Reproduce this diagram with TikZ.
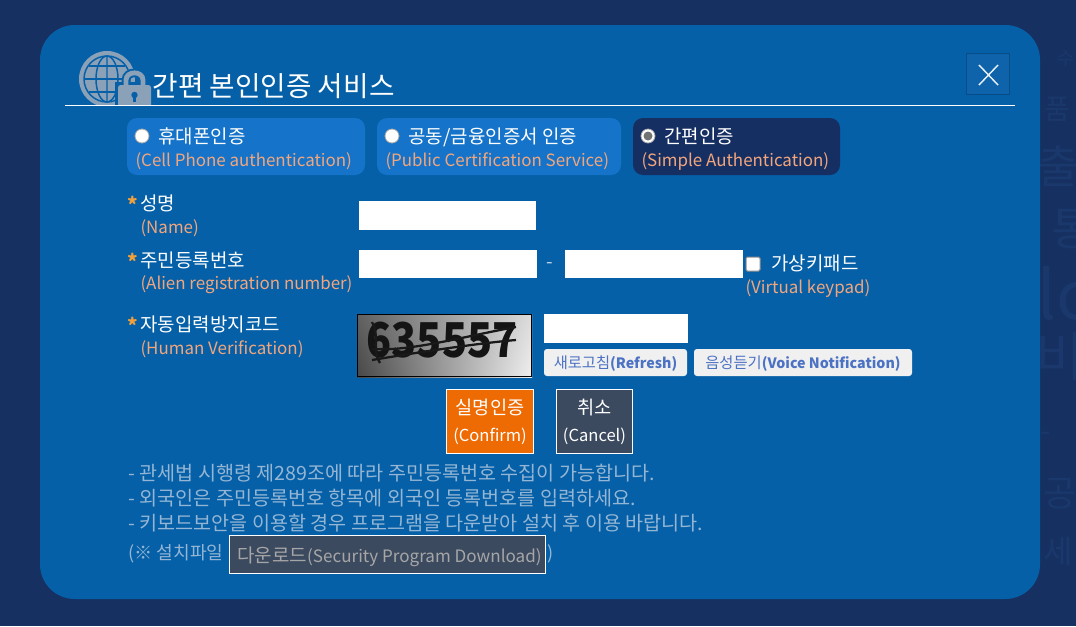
\documentclass[tikz,border=0pt]{standalone}
\usepackage{fontspec}
\usetikzlibrary{shadings}
\setmainfont{Noto Sans CJK KR}

\definecolor{pagebg}{RGB}{21,48,97}
\definecolor{ghostc}{RGB}{27,56,108}
\definecolor{modalbg}{RGB}{5,96,168}
\definecolor{tabc}{RGB}{21,116,201}
\definecolor{tabdark}{RGB}{22,47,99}
\definecolor{peach}{RGB}{243,166,124}
\definecolor{starc}{RGB}{240,160,60}
\definecolor{notec}{RGB}{148,182,212}
\definecolor{iconc}{RGB}{139,161,184}
\definecolor{slatec}{RGB}{60,74,96}
\definecolor{orangec}{RGB}{238,106,2}
\definecolor{linkc}{RGB}{76,114,196}
\definecolor{closec}{RGB}{14,99,170}

\newcommand{\linklatin}[1]{{\fontsize{10.7}{14}\bfseries\selectfont #1}}
\newcommand{\smalllatin}[1]{{\fontsize{12.8}{16}\selectfont #1}}

\tikzset{every picture/.style={line width=0.75pt}}
\tikzset{
	txt/.style={anchor=base west,inner sep=0pt,text=white,font=\fontsize{14.2}{16}\selectfont},
	peachtxt/.style={txt,text=peach,font=\fontsize{12.7}{16}\selectfont},
	notetxt/.style={txt,text=notec,font=\fontsize{14.7}{16}\selectfont},
	cenw/.style={txt,anchor=base,font=\fontsize{14}{16}\selectfont},
	cenl/.style={txt,anchor=base,font=\fontsize{12.4}{16}\selectfont},
	startxt/.style={txt,text=starc,font=\fontsize{15}{16}\bfseries\selectfont},
	linktxt/.style={txt,anchor=base,text=linkc,font=\fontsize{11.5}{14}\selectfont},
	ghost/.style={anchor=center,inner sep=0pt,text=ghostc,font=\fontsize{#1}{#1}\selectfont},
	tabbox/.style={fill=tabc,rounded corners=7.5pt},
	inputbox/.style={fill=white},
	linkbox/.style={fill=black!6,rounded corners=2.2pt},
	radio/.style={fill=white,draw=black!35,line width=0.6pt},
}

\begin{document}
\begin{tikzpicture}[x=0.75pt,y=0.75pt,yscale=-1]
	\useasboundingbox (0,0) rectangle (1076,626);
	\fill [pagebg] (0,0) rectangle (1076,626);

	% faint page text behind the dialog
	\begin{scope}
	\clip (1040,0) rectangle (1076,626);
	\node (ghostA) [ghost=14] at (1066,59) {수};
	\node (ghostB) [ghost=21] at (1057,109) {품};
	\node (ghostC) [ghost=34] at (1058,166) {출};
	\node (ghostD) [ghost=34] at (1072,229) {통};
	\node (ghostE) [ghost=50] at (1064,293) {lc};
	\node (ghostF) [ghost=40] at (1060,357) {비};
	\node (ghostG) [ghost=22] at (1046,437) {-};
	\node (ghostH) [ghost=27] at (1060,494) {공};
	\node (ghostI) [ghost=24] at (1058,552) {세};
	\end{scope}

	% dialog
	\fill [modalbg,rounded corners=26pt] (40,25) rectangle (1040,599);

	% globe and lock icon
	\begin{scope}
	\clip (60,40) rectangle (160,105);
	\fill [iconc] (107,79) circle (28);
	\draw [modalbg,line width=1.1pt] (107,79) circle (23);
	\draw [modalbg,line width=1.1pt] (107,79) ellipse (11 and 23) (107,56) -- (107,102);
	\draw [modalbg,line width=1.1pt] (84,79) -- (130,79);
	\draw [modalbg,line width=1.1pt] (89,66) -- (125,66) (89,92) -- (125,92);
	\draw [modalbg,line width=6.5pt] (126,90) -- (126,80) .. controls (126,70.5) and (143,70.5) .. (143,80) -- (143,90);
	\fill [modalbg] (115,82) rectangle (156,105);
	\draw [iconc,line width=3.6pt] (126,88) -- (126,80) .. controls (126,70.5) and (143,70.5) .. (143,80) -- (143,88);
	\fill [iconc,rounded corners=2pt] (118,85) rectangle (151,112);
	\fill [modalbg] (134.5,95) circle (3.2);
	\fill [modalbg] (133.2,95) rectangle (135.8,102);
	\end{scope}

	% Text Node
	\node (titleText) [txt,font=\fontsize{20.8}{24}\selectfont] at (152,96) {간편 본인인증 서비스};
	\draw [white] (65,105) -- (1015,105);

	% close button
	\fill [modalbg!80!black] (966,53) rectangle (1010,95);
	\fill [closec] (966.5,53.5) rectangle (1009,93.5);
	\draw [white!90!tabc,line width=1.1pt] (979,65) -- (998,85) (998,65) -- (979,85);

	% tabs
	\fill [tabbox] (127,118) rectangle (365,175);
	\fill [tabbox] (377,118) rectangle (621,175);
	\fill [tabbox,fill=tabdark] (633,118) rectangle (840,175);
	\draw [radio] (142,136) circle (7) (392,136) circle (7) (648,136) circle (7);
	\fill [black!55] (648,136) circle (4.5);

	% Text Node
	\node (cellText) [txt] at (158,143) {휴대폰인증};
	\node (cellSub) [peachtxt] at (135,166) {(Cell Phone authentication)};
	\node (certText) [txt] at (408,143) {공동/금융인증서 인증};
	\node (certSub) [peachtxt] at (385,166) {(Public Certification Service)};
	\node (simpleText) [txt] at (664,143) {간편인증};
	\node (simpleSub) [peachtxt] at (641,166) {(Simple Authentication)};

	% form labels
	\node (starA) [startxt] at (127,212) {*};
	\node (nameText) [txt] at (140,210) {성명};
	\node (nameSub) [peachtxt] at (140,233) {(Name)};
	\node (starB) [startxt] at (127,269) {*};
	\node (alienText) [txt] at (140,267) {주민등록번호};
	\node (alienSub) [peachtxt] at (140,289) {(Alien registration number)};
	\node (starC) [startxt] at (127,333) {*};
	\node (humanText) [txt] at (140,331) {자동입력방지코드};
	\node (humanSub) [peachtxt] at (140,354) {(Human Verification)};

	% inputs
	\fill [inputbox] (359,201) rectangle (536,230);
	\fill [inputbox] (359,250) rectangle (537,278);
	\fill [inputbox] (565,250) rectangle (743,278);
	\fill [inputbox] (544,314) rectangle (688,343);
	\node (dashText) [txt,text=notec!60!white] at (546,268) {-};
	\draw [fill=white,draw=black!45,rounded corners=1pt] (746,257) rectangle (760,271);
	\node (keypadText) [txt] at (771,270) {가상키패드};
	\node (keypadSub) [peachtxt] at (745,293) {(Virtual keypad)};

	% captcha
	\shade [lower left=black!72,upper left=black!62,lower right=black!6,upper right=black!14] (357,314) rectangle (532,377);
	\node (captchaText) [anchor=center,inner sep=0pt,text=black!92,xscale=0.86,font=\fontsize{36}{36}\bfseries\selectfont] at (442,340) {635557};
	\draw [black!90,line width=1.7pt] (372,349) .. controls (410,352) and (470,335) .. (516,327);
	\draw [black!90,line width=1.7pt] (372,360) .. controls (420,352) and (480,343) .. (516,340);
	\draw [black!90,line width=1.7pt] (372,322) .. controls (380,335) and (372,352) .. (380,363);
	\draw [black,line width=1pt] (357.5,314.5) rectangle (531.5,376.5);

	% small buttons
	\fill [linkbox] (544,349) rectangle (687,376);
	\node (refreshText) [linktxt] at (615.5,368) {새로고침\linklatin{(Refresh)}};
	\fill [linkbox] (694,349) rectangle (912,376);
	\node (voiceText) [linktxt] at (803,368) {음성듣기\linklatin{(Voice Notification)}};

	% confirm and cancel
	\draw [fill=orangec,draw=white] (446.5,389.5) rectangle (533.5,453.5);
	\node (confirmKo) [cenw] at (490,414) {실명인증};
	\node (confirmEn) [cenl] at (490,441) {(Confirm)};
	\draw [fill=slatec,draw=white] (556.5,389.5) rectangle (632.5,453.5);
	\node (cancelKo) [cenw] at (594.5,414) {취소};
	\node (cancelEn) [cenl] at (594.5,441) {(Cancel)};

	% notes
	\node (noteA) [notetxt] at (128,480) {- 관세법 시행령 제289조에 따라 주민등록번호 수집이 가능합니다.};
	\node (noteB) [notetxt] at (128,505) {- 외국인은 주민등록번호 항목에 외국인 등록번호를 입력하세요.};
	\node (noteC) [notetxt] at (128,530) {- 키보드보안을 이용할 경우 프로그램을 다운받아 설치 후 이용 바랍니다.};
	\node (noteD) [notetxt,font=\fontsize{13.6}{16}\selectfont] at (128,559) {(※ 설치파일};
	\draw [fill=slatec,draw=white] (229.5,535.5) rectangle (545.5,573.5);
	\node (downloadText) [txt,text=black!35] at (237,562) {다운로드\smalllatin{(Security Program Download)}};
	\node (noteEnd) [notetxt,font=\fontsize{13.6}{16}\selectfont] at (547,559) {)};
\end{tikzpicture}
\end{document}
